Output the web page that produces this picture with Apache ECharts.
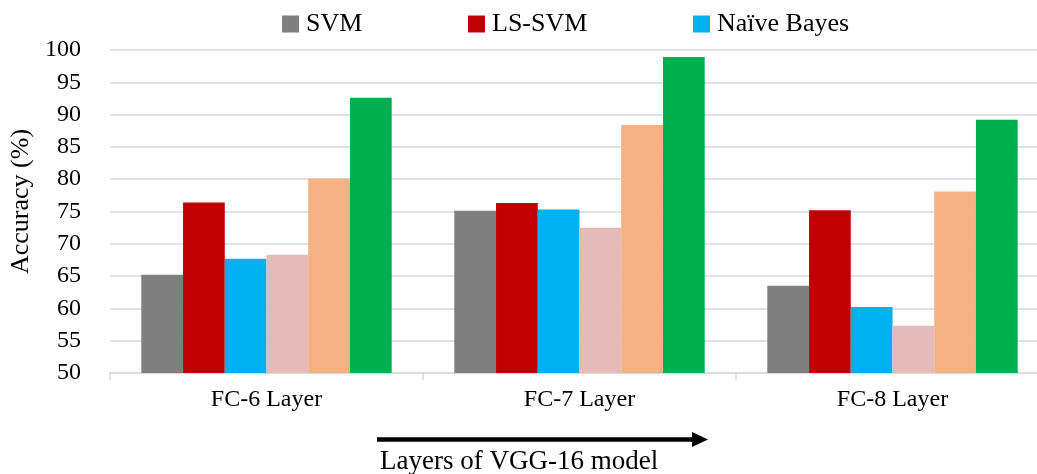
<!DOCTYPE html>
<html>
<head>
<meta charset="utf-8">
<script src="https://cdn.jsdelivr.net/npm/echarts@6/dist/echarts.min.js"></script>
<style>
html,body{margin:0;padding:0;background:#fff;}
#chart{width:1037px;height:474px;}
</style>
</head>
<body>
<div id="chart"></div>
<script>
const categories = ['FC-6 Layer', 'FC-7 Layer', 'FC-8 Layer'];
const svm = [65.2, 75.1, 63.5];
const lsSvm = [76.4, 76.3, 75.2];
const naiveBayes = [67.7, 75.3, 60.2];
const method4 = [68.3, 72.5, 57.3];
const method5 = [80.1, 88.4, 78.1];
const method6 = [92.6, 98.9, 89.2];
const seriesNames = ['SVM', 'LS-SVM', 'Naïve Bayes', 'Method 4', 'Method 5', 'Method 6'];
const seriesData = [svm, lsSvm, naiveBayes, method4, method5, method6];
const colors = ['#7F7F7F', '#C00000', '#00B0F0', '#E5BBBA', '#F4B183', '#00B050'];
const FONT = 'Liberation Serif';

const chart = echarts.init(document.getElementById('chart'));
const legendLefts = [282, 468, 693];
chart.setOption({
  animation: false,
  color: colors,
  textStyle: { fontFamily: FONT, color: '#000' },
  legend: seriesNames.slice(0, 3).map((n, i) => ({
    data: [n],
    left: legendLefts[i],
    top: 11,
    padding: 0,
    itemWidth: 17,
    itemHeight: 17,
    itemGap: 0,
    icon: 'rect',
    selectedMode: false,
    textStyle: { fontFamily: FONT, fontSize: 26, color: '#000', padding: [0, 0, 0, 2] }
  })),
  grid: { left: 110, right: -12, top: 50, bottom: 101, containLabel: false, outerBoundsMode: 'none' },
  xAxis: {
    type: 'category',
    data: categories,
    axisLine: { lineStyle: { color: '#D9D9D9', width: 1.5 } },
    axisTick: { show: true, length: 7, lineStyle: { color: '#D9D9D9', width: 1.5 } },
    axisLabel: { fontFamily: FONT, fontSize: 24, color: '#000', margin: 15 }
  },
  yAxis: {
    type: 'value',
    min: 50,
    max: 100,
    interval: 5,
    name: 'Accuracy (%)',
    nameLocation: 'middle',
    nameGap: 64,
    nameTextStyle: { fontFamily: FONT, fontSize: 26, color: '#000', padding: [0, 0, 0, 20] },
    axisLine: { show: false },
    axisTick: { show: false },
    axisLabel: { fontFamily: FONT, fontSize: 24, color: '#000', margin: 29 },
    splitLine: { lineStyle: { color: '#D9D9D9', width: 1.5 } }
  },
  series: seriesNames.map((n, i) => ({
    name: n,
    type: 'bar',
    data: seriesData[i],
    barGap: '0%',
    barCategoryGap: '20%',
    itemStyle: { color: colors[i] }
  })),
  graphic: [
    { type: 'line', shape: { x1: 377, y1: 439.5, x2: 694, y2: 439.5 }, style: { stroke: '#000', lineWidth: 4.5 } },
    { type: 'polygon', shape: { points: [[692, 432], [708, 439.5], [692, 447]] }, style: { fill: '#000' } },
    { type: 'text', left: 380, top: 448, style: { text: 'Layers of VGG-16 model', font: '27px "Liberation Serif"', fill: '#000' } }
  ]
});
</script>
</body>
</html>
